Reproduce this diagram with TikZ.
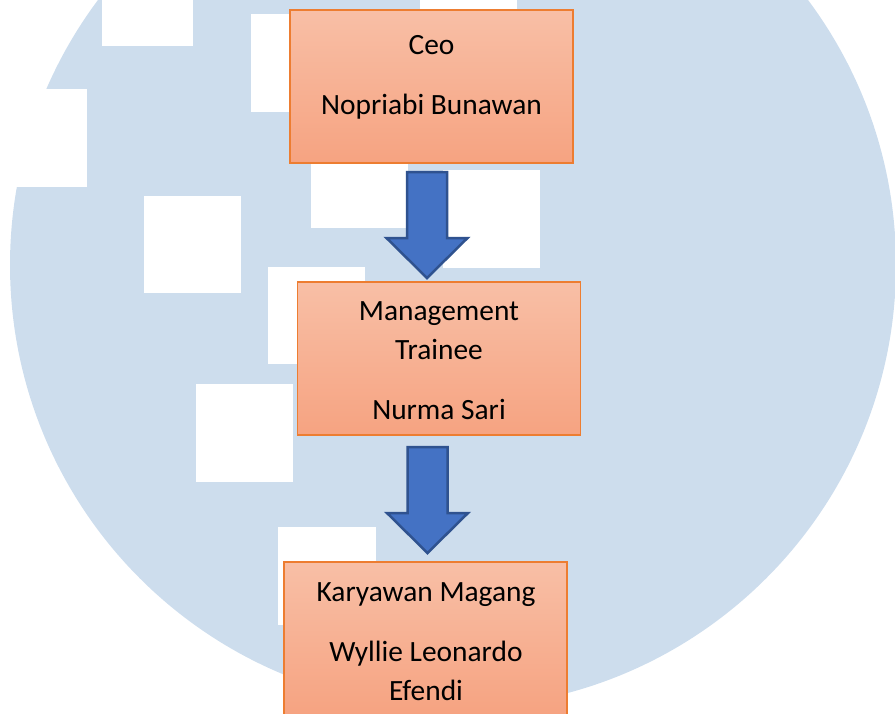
\documentclass[tikz,border=0pt]{standalone}
\usepackage{fontspec}
\setmainfont{Carlito}
\definecolor{wm}{HTML}{CDDDED}
\definecolor{boxtop}{HTML}{F8BFA6}
\definecolor{boxbot}{HTML}{F6A381}
\definecolor{boxline}{HTML}{ED7D31}
\definecolor{arrowfill}{HTML}{4472C4}
\definecolor{arrowline}{HTML}{2F528F}
\usetikzlibrary{calc}
\newcommand{\blockarrow}[2]{% start coordinate, tip coordinate
  \draw[blockarrowstyle] let \p1=(#1), \p2=(#2) in
    (\x1-20pt,\y1) -- (\x1+20pt,\y1) -- (\x1+20pt,\y2+40pt) -- (\x1+40.5pt,\y2+40pt)
    -- (\x2,\y2) -- (\x1-40.5pt,\y2+40pt) -- (\x1-20pt,\y2+40pt) -- cycle;}
\tikzset{
  staffbox/.style={draw=boxline,line width=1.2pt,top color=boxtop,bottom color=boxbot,
    minimum width=283pt,minimum height=153pt,inner sep=0pt,outer sep=0pt,anchor=north west},
  stafftext/.style={anchor=north,align=center,font=\fontsize{29.4}{39}\selectfont,text=black,inner sep=0pt},
  blockarrowstyle/.style={fill=arrowfill,draw=arrowline,line width=2.5pt,line join=miter},
  wmsquare/.style={fill=white,draw=none}
}
\begin{document}
\begin{tikzpicture}[x=1pt,y=-1pt]
\useasboundingbox (0,0) rectangle (895,713);
\clip (0,0) rectangle (895,713);
\fill[wm] (453,265) circle (443pt);
\foreach \a/\b/\c/\d in {102/-52/193/46,-10/89/87/187,251/14/349/112,420/-88/517/10,311/130/408/228,443/170/540/268,144/196/241/293,268/267/365/364,196/384/293/482,278/527/376/625}
  \fill[wmsquare] (\a,\b) rectangle (\c,\d);
\node[staffbox] (ceo) at (290,10) {};
\node[staffbox] (mt) at (297.5,282) {};
\node[staffbox] (km) at (284,562) {};
\node[stafftext] (ceotext) at (431.5,35.5) {Ceo\\[21pt]Nopriabi Bunawan};
\node[stafftext] (mttext) at (439,301.5) {Management\\Trainee\\[21pt]Nurma Sari};
\node[stafftext] (kmtext) at (426,582.5) {Karyawan Magang\\[21pt]Wyllie Leonardo\\Efendi};
\coordinate (a1s) at (427,172);
\coordinate (a1e) at (427,278);
\coordinate (a2s) at (427.5,447);
\coordinate (a2e) at (427.5,553);
\blockarrow{a1s}{a1e}
\blockarrow{a2s}{a2e}
\end{tikzpicture}
\end{document}
